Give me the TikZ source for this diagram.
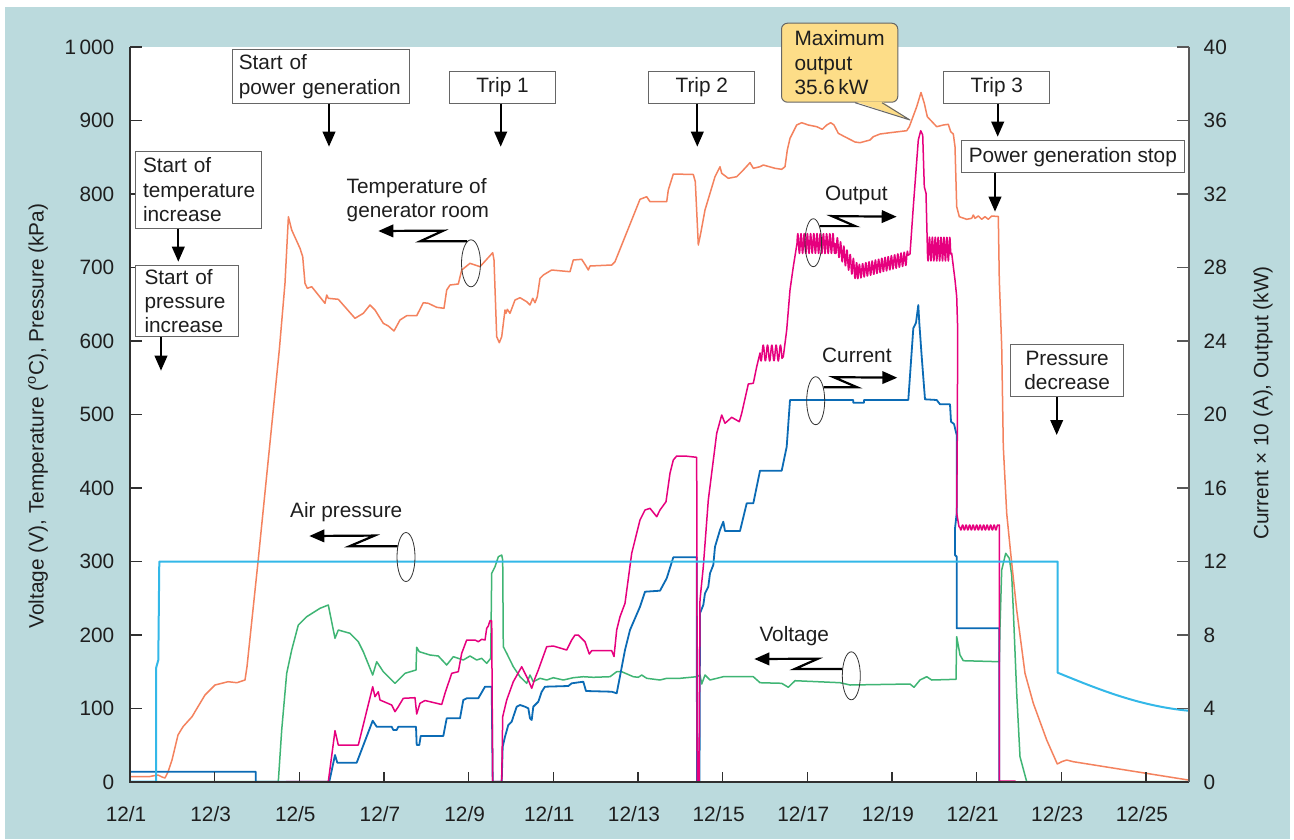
\documentclass[tikz,border=0pt]{standalone}
\usepackage{fontspec}
\setmainfont{Liberation Sans}
\usetikzlibrary{arrows.meta,shapes.geometric}
\definecolor{bgblue}{HTML}{BBDADD}
\definecolor{tempc}{HTML}{F4825E}
\definecolor{outc}{HTML}{E6007E}
\definecolor{curc}{HTML}{0B6BB5}
\definecolor{voltc}{HTML}{3FB574}
\definecolor{airc}{HTML}{33B8E8}
\definecolor{callfill}{HTML}{FDDD88}
\definecolor{axisc}{HTML}{303030}
\definecolor{txtc}{HTML}{1E1E1E}
\definecolor{boxc}{HTML}{666666}
\tikzset{
  curve/.style={line join=round},
  tbox/.style={draw=boxc, line width=1pt, fill=white, inner sep=0pt, text=txtc, anchor=north west},
  lbl/.style={inner sep=0pt, text=txtc},
  ell/.style={draw=black!80, line width=0.8pt, ellipse, inner sep=0pt},
  zig/.style={draw=black, line width=2.2pt, -{Triangle[width=12.5pt,length=15pt]}},
  downarr/.style={draw=black, line width=2.2pt, -{Triangle[width=12.5pt,length=15pt]}},
}
\begin{document}
\begin{tikzpicture}[x=1pt,y=-1pt,font=\fontsize{20.8}{24.3}\selectfont]
\useasboundingbox (0,0) rectangle (1294,839);
\fill[bgblue] (5,7) rectangle (1290,839);
\fill[white] (130,47) rectangle (1188.7,782);

% ---------- data curves ----------
% voltage
\draw[curve, voltc, line width=1.5pt] (156.7,781.7) -- (278.3,781.7) -- (281.7,730) -- (286.7,673.3) -- (291.7,650) -- (298.3,625) -- (306.7,616.7) -- (320,608.3) -- (328.3,605) -- (335,638.3) -- (338.3,630) -- (350,633.3) -- (358.3,641.7) -- (363.3,651.7) -- (372.7,675) -- (376.7,661.7) -- (383.3,671.7) -- (395,683.3) -- (405,673.3) -- (416,670) -- (416.7,647.3) -- (419.3,651.7) -- (430,655) -- (438.3,656) -- (446.7,665) -- (453.3,656.7) -- (463.3,660) -- (470,656) -- (476.7,660) -- (481.7,658.3) -- (486.7,663.3) -- (490.7,658.3) -- (491.7,573.3) -- (495,566.7) -- (498.3,556.7) -- (501.7,555) -- (502.7,560) -- (503.3,646.7) -- (506.7,653.3) -- (513.3,666.7) -- (520,676.7) -- (526.7,683.3) -- (530,675) -- (533.3,681.7) -- (540,678.3) -- (546.7,680) -- (553.3,677.7) -- (563.3,680) -- (573.3,677.7) -- (583.3,676.7) -- (593.3,677.3) -- (610,676.7) -- (616.7,671.7) -- (621.7,671.7) -- (633.3,676.7) -- (638.3,677.3) -- (641.7,675) -- (646.7,678.3) -- (660,680) -- (666.7,678.3) -- (680,678.3) -- (696.7,676.7) -- (700,675) -- (701.7,684) -- (705,675) -- (710,680) -- (723.3,676.7) -- (753.3,676.7) -- (760,682.7) -- (781.7,683.3) -- (788.3,687.3) -- (795,680.7) -- (840,682.7) -- (850,685) -- (910,684) -- (914,687.3) -- (920,680) -- (926.7,676.7) -- (931.7,680) -- (956,679.3) -- (956.7,636.7) -- (960,655) -- (963.3,660.7) -- (999.3,661.7) -- (1000,626.7) -- (1001.7,570) -- (1005.7,553.3) -- (1009.3,558.3) -- (1011.7,575) -- (1013.3,610) -- (1016.7,693.3) -- (1020,756.7) -- (1026.7,781.7) -- (1188.3,781.7);

% temperature
\draw[curve, tempc, line width=1.5pt] (130,776.5) -- (150,776.5) -- (155,775.5) -- (158,775) -- (162,777) -- (165,778) -- (168,772) -- (172,760) -- (178,735) -- (183,726.7) -- (192,716.7) -- (205,695) -- (215,685) -- (228,681.7) -- (237,682.7) -- (245,680) -- (247,666.7) -- (258,562) -- (279.3,350) -- (285,283) -- (288.4,216.7) -- (291.7,230) -- (300,248.3) -- (302.7,256.7) -- (305,283.3) -- (307.3,288.3) -- (311.7,286.7) -- (325,303.3) -- (326.7,295) -- (328.3,298.3) -- (338.3,299.3) -- (355,318.3) -- (363.3,313.3) -- (370,305) -- (375,310) -- (383.3,323.3) -- (388.3,326) -- (394,331) -- (400,320) -- (406.7,315.7) -- (416.7,315.7) -- (423.3,302.7) -- (428.3,303.3) -- (436.7,307.3) -- (444,308.3) -- (446.7,290) -- (450,285) -- (458.3,284) -- (461.7,270) -- (470,263.3) -- (480,266.7) -- (492.7,252.7) -- (494,260) -- (496.7,336.7) -- (499.3,342.7) -- (501.7,336.7) -- (505,310) -- (506,313.3) -- (507.3,309.3) -- (510,313.3) -- (515,300) -- (520,297.7) -- (526.7,301.7) -- (530,305) -- (532.7,298.3) -- (535,302.7) -- (537.3,296.7) -- (540,278.3) -- (543.3,275) -- (551.7,270) -- (570,271.7) -- (573.3,260) -- (581.7,259.3) -- (586,266) -- (588.3,270) -- (590,266) -- (611.7,265) -- (615,261.7) -- (640,199.3) -- (646.7,196.7) -- (650,201.7) -- (666.7,201.7) -- (668.3,190) -- (673.3,174) -- (693.3,174.5) -- (695.3,181.7) -- (698.3,245) -- (700.7,233.3) -- (705,210) -- (710,193.3) -- (715,176.7) -- (720,166.7) -- (721.7,173.3) -- (728.3,178.3) -- (736.7,176.7) -- (743.3,170) -- (750,162.7) -- (753.3,168.3) -- (760,166.7) -- (763.3,165) -- (775,168.3) -- (781.7,169.3) -- (785,166.7) -- (787.3,150) -- (790,138.3) -- (796.7,125) -- (801.7,122.7) -- (808.3,125) -- (816.7,126.7) -- (822.3,129.3) -- (826.7,125) -- (830.7,122.7) -- (834,125) -- (838.3,133.3) -- (843.3,136) -- (855,142) -- (860,142.7) -- (870,140) -- (873.3,136.7) -- (880,134) -- (890,132.7) -- (906.7,130.7) -- (909.3,126.7) -- (916.7,106.7) -- (921,92.5) -- (924.3,103.3) -- (927.3,116.7) -- (936.7,126.7) -- (943.3,125) -- (948.3,124.3) -- (950.7,131.7) -- (953.3,134) -- (955,146.7) -- (956.7,206.7) -- (959.3,216.7) -- (966.7,219.3) -- (971.7,218.3) -- (973.3,215) -- (975,218.3) -- (978.3,216) -- (981.7,219.3) -- (985,216.7) -- (988.3,219.3) -- (991.7,216) -- (998.3,216.5) -- (999.3,280) -- (1001.7,346.7) -- (1003.3,446.7) -- (1006.7,513.3) -- (1010.7,553.3) -- (1016.7,610) -- (1025,673.3) -- (1033.3,703.3) -- (1046.7,740) -- (1057.3,764) -- (1061.7,761.7) -- (1066.7,760) -- (1073.3,761.7) -- (1188.3,780);

% current
\draw[curve, curc, line width=1.8pt] (130,771.7) -- (255.7,771.7) -- (255.7,781.7) -- (329.3,781.7) -- (335,755) -- (337.3,762.7) -- (356.7,762.7) -- (372.7,720.7) -- (376.7,726.7) -- (391.7,726.7) -- (393.3,730) -- (396.7,730) -- (398.3,726.7) -- (416,726.7) -- (416.7,745) -- (419.3,745) -- (420.7,736) -- (443.3,736) -- (446.7,718.3) -- (460,718.3) -- (463.3,700) -- (466.7,698.3) -- (478.3,698.3) -- (485,686.7) -- (491.7,686.7) -- (492.7,781.7) -- (501.7,781.7) -- (502.7,746.7) -- (505,736.7) -- (508.3,725) -- (511.7,721.7) -- (513.3,716.7) -- (516.7,706.7) -- (520,705) -- (525,706.7) -- (528.3,708.3) -- (530,718.3) -- (531.7,720) -- (533.3,706.7) -- (538.3,701.7) -- (541.7,691.7) -- (545,686.7) -- (568.3,686) -- (571.7,683.3) -- (583.3,681.7) -- (586,691) -- (611.7,691.7) -- (616.7,693.3) -- (618.3,685) -- (625,650) -- (630,630) -- (640,606.7) -- (645,591.7) -- (660,590.7) -- (666.7,578.3) -- (673.3,557.3) -- (696.7,557.3) -- (697,781.7) -- (699.5,781.7) -- (700,613.3) -- (703.3,605) -- (705,593.3) -- (708.3,586.7) -- (710,573.3) -- (713.3,565) -- (715,546.7) -- (720,530) -- (723.3,521.7) -- (725,531) -- (740,531) -- (746.7,503.3) -- (753.3,503.3) -- (760,470.7) -- (781.7,470.7) -- (786.7,446.7) -- (790,400) -- (853.3,400) -- (853.3,402.7) -- (864,402.7) -- (864,400) -- (908.3,400) -- (913.3,328.3) -- (916,322.7) -- (918.3,305) -- (919.3,322.7) -- (921.7,356.7) -- (925,399.3) -- (936.7,400) -- (940,404.3) -- (950,404.3) -- (951,421.7) -- (954,424) -- (956.7,435) -- (956.7,513.3) -- (955,528.3) -- (955,555) -- (956.7,556.7) -- (956.7,628.3) -- (999.3,628.3) -- (999.3,781.7);

% output
\draw[curve, outc, line width=1.5pt] (286,781.7) -- (328.3,781.7) -- (335,730.7) -- (338.3,745) -- (358.3,745) -- (372.7,686.7) -- (375,696.7) -- (378.3,691.7) -- (380,700) -- (391.7,705) -- (395,711.7) -- (398.3,706.7) -- (403.3,698.3) -- (415,697.7) -- (416.7,714) -- (420,703.3) -- (425,700.5) -- (441.7,704.5) -- (445,693.3) -- (451.7,673.3) -- (458.3,671.7) -- (461.7,653.3) -- (466.7,640) -- (475,640) -- (478.3,641.7) -- (481.7,639.3) -- (485,640) -- (486.7,628.3) -- (488.3,626) -- (490,620.7) -- (491.7,620.7) -- (492.7,781.7) -- (501.7,781.7) -- (502.7,716.7) -- (506.7,700) -- (513.3,681.7) -- (521.7,666.7) -- (528.3,680) -- (531.7,688.3) -- (535,678.3) -- (538.3,670) -- (546.7,646.7) -- (553.3,646) -- (566.7,650) -- (571.7,640) -- (575,635) -- (578.3,635) -- (583.3,640) -- (585,641.7) -- (589.3,654) -- (591.7,650.7) -- (611.7,650.7) -- (614,656.5) -- (616.7,630) -- (620,616.7) -- (625,603.3) -- (631.7,553.3) -- (640,520) -- (645,510) -- (650,508.3) -- (656.7,516.7) -- (660,510) -- (666,501.7) -- (670,473.3) -- (673.3,460) -- (676.7,456) -- (685,456) -- (696.7,457.3) -- (697.3,781.7) -- (699,781.7) -- (700,600) -- (703.3,566.7) -- (708.3,500) -- (716.7,433.3) -- (721.7,415) -- (725,423.3) -- (731.7,417.3) -- (739.3,421.7) -- (741.7,413.3) -- (748.3,384) -- (753.3,383.3) -- (756.7,366.7) -- (760,353)
  -- plot[domain=760:782,samples=60] (\x,{353+8*sin((\x-760)*83.72)})
  -- (783.3,356.7) -- (786.7,330) -- (790,290) -- (793.3,266.7) -- (797,243.5)
  -- plot[domain=797:835,samples=130] (\x,{243.5-10*sin((\x-797)*112.5)})
  -- plot[domain=835:857,samples=80] (\x,{243.5+(\x-835)*1.295+9*sin((\x-835)*112.5)})
  -- plot[domain=857:908,samples=170] (\x,{272-(\x-857)*0.2745+7*sin((\x-857)*112.5)})
  -- (910,254) -- (913.3,206.7) -- (918.3,140) -- (920.7,130.7) -- (922.7,135) -- (924.3,186.7) -- (926,193.3) -- (927.3,245)
  -- plot[domain=927.3:950.7,samples=90] (\x,{249+12*sin((\x-927.3)*124.14)})
  -- (951.7,253.3) -- (955,280) -- (956.7,296.7) -- (957.7,330) -- (957.3,433.3) -- (956.7,513.3) -- (959,526.7)
  -- plot[domain=960:998,samples=120] (\x,{527.5+2.5*sin((\x-960)*102.86)})
  -- (999.3,525) -- (999.3,781) -- (1015.7,781);

% air pressure
\draw[curve, airc, line width=2pt] (130,781.7) -- (156,781.7) -- (156,668.3) -- (158.3,660) -- (159.3,561.5) -- (1057.7,561.5) -- (1057.7,672.7) .. controls (1100,690) and (1140,706) .. (1188.3,710.7);

% ---------- axes ----------
\draw[axisc, line width=1.6pt] (130,47) -- (130,782) -- (1188.7,782);
\draw[black!65, line width=1.6pt] (1188.7,782) -- (1188.7,47);
\foreach \k in {1,...,10} {
  \draw[axisc, line width=1.2pt] (130,{782-73.5*\k}) -- ++(11.7,0);
  \draw[black!65, line width=1.2pt] (1188.7,{782-73.5*\k}) -- ++(-11.7,0);
}
\foreach \d in {2,4,...,24} \draw[axisc, line width=1.2pt] ({130+42.33*\d},782) -- ++(0,-10);

\foreach \k/\t in {0/0,1/100,2/200,3/300,4/400,5/500,6/600,7/700,8/800,9/900,10/{1\,000}}
  \node[lbl, anchor=east] (yl\k) at (114.5,{782-73.5*\k}) {\t};
\foreach \k/\t in {0/0,1/4,2/8,3/12,4/16,5/20,6/24,7/28,8/32,9/36,10/40}
  \node[lbl, anchor=west] (yr\k) at (1203.5,{782-73.5*\k}) {\t};
\foreach \d/\t in {0/1,2/3,4/5,6/7,8/9,10/11,12/13,14/15,16/17,18/19,20/21,22/23,24/25}
  \node[lbl] (xl\d) at ({126+42.33*\d},814) {12/\t};

\node[lbl, rotate=90] (ytitle) at (38,416) {Voltage (V), Temperature (\textsuperscript{o}C), Pressure (kPa)};
\node[lbl, rotate=90] (y2title) at (1263,403) {Current × 10 (A), Output (kW)};

% ---------- event boxes ----------
\node[tbox, minimum width=177pt, minimum height=53.4pt, text width=165pt, align=left] (bpg) at (232.3,49.3) {Start of\\power generation};
\node[tbox, minimum width=126pt, minimum height=77pt, text width=111pt, align=left] (btemp) at (135,150.7) {Start of\\temperature\\increase};
\node[tbox, minimum width=102.7pt, minimum height=71pt, text width=84.7pt, align=left] (bpress) at (135,265) {Start of\\pressure\\increase};
\node[tbox, minimum width=106pt, minimum height=32pt] (btrip1) at (449,70.7) {Trip 1};
\node[tbox, minimum width=106pt, minimum height=32pt] (btrip2) at (648.3,70.7) {Trip 2};
\node[tbox, minimum width=106pt, minimum height=32pt] (btrip3) at (943.3,70.7) {Trip 3};
\node[tbox, minimum width=223.3pt, minimum height=32.3pt] (bstop) at (960.7,140) {Power generation stop};
\node[tbox, minimum width=113.3pt, minimum height=51.7pt, text width=113.3pt, align=center] (bpdec) at (1010,344.3) {Pressure\\decrease};

\coordinate (tpg) at (329,146.7);
\coordinate (ttemp) at (178.3,261.7);
\coordinate (tpress) at (161,370.7);
\coordinate (ttrip1) at (500.7,146.7);
\coordinate (ttrip2) at (697.3,146.7);
\coordinate (ttrip3) at (997.7,136.7);
\coordinate (tstop) at (995,211.7);
\coordinate (tpdec) at (1056.7,435);
\draw[downarr] (bpg.south -| tpg) -- (tpg);
\draw[downarr] (btemp.south -| ttemp) -- (ttemp);
\draw[downarr] (bpress.south -| tpress) -- (tpress);
\draw[downarr] (btrip1.south -| ttrip1) -- (ttrip1);
\draw[downarr] (btrip2.south -| ttrip2) -- (ttrip2);
\draw[downarr] (btrip3.south -| ttrip3) -- (ttrip3);
\draw[downarr] (bstop.south -| tstop) -- (tstop);
\draw[downarr] (bpdec.south -| tpdec) -- (tpdec);

% ---------- maximum output callout ----------
\node[anchor=north west, minimum width=116.3pt, minimum height=79pt, text width=90.3pt, align=left, fill=callfill, draw=boxc, line width=1pt, rounded corners=6pt, inner sep=0pt, text=txtc] (cmax) at (781,22.7) {Maximum\\output\\35.6\,kW};
\coordinate (pmax) at (910,120);
\fill[callfill] ([xshift=74pt,yshift=1.2pt]cmax.south west) -- ([xshift=101pt,yshift=1.2pt]cmax.south west) -- (pmax) -- cycle;
\draw[boxc, line width=1pt, line join=round] ([xshift=74pt]cmax.south west) -- (pmax) -- ([xshift=101pt]cmax.south west);

% ---------- curve labels ----------
\node[lbl, anchor=west, align=left] (ltemp) at (346.5,200) {Temperature of\\generator room};
\node[ell, minimum width=19pt, minimum height=47pt] (eT) at (471,263.3) {};
\coordinate (tT) at (378.3,231);
\draw[zig] (eT.100) -- ++(-47,0) -- ++(23.3,-10.7) -- (tT);

\node[lbl, anchor=west] (lair) at (290,512) {Air pressure};
\node[ell, minimum width=18pt, minimum height=49pt] (eA) at (406,557) {};
\coordinate (tA) at (309.3,536);
\draw[zig] (eA.128) -- ++(-47.9,0) -- ++(25,-10.6) -- (tA);

\node[lbl, anchor=west] (lvolt) at (759.3,636) {Voltage};
\node[ell, minimum width=18pt, minimum height=48pt] (eV) at (851.3,675.8) {};
\coordinate (tV) at (754.3,659);
\draw[zig] (eV.143) -- ++(-47.6,0) -- ++(23.3,-10.3) -- (tV);

\node[lbl, anchor=west] (lout) at (825,195) {Output};
\node[ell, minimum width=16.6pt, minimum height=48pt] (eO) at (813.3,242.7) {};
\coordinate (tO) at (896.7,216.7);
\draw[zig] (eO.69) -- ++(35.5,0) -- ++(-23.3,-10) -- (tO);

\node[lbl, anchor=west] (lcur) at (822,355) {Current};
\node[ell, minimum width=18pt, minimum height=48pt] (eC) at (815.7,400.7) {};
\coordinate (tC) at (897.3,377.7);
\draw[zig] (eC.60) -- ++(33.4,0) -- ++(-23.4,-10) -- (tC);
\end{tikzpicture}
\end{document}
